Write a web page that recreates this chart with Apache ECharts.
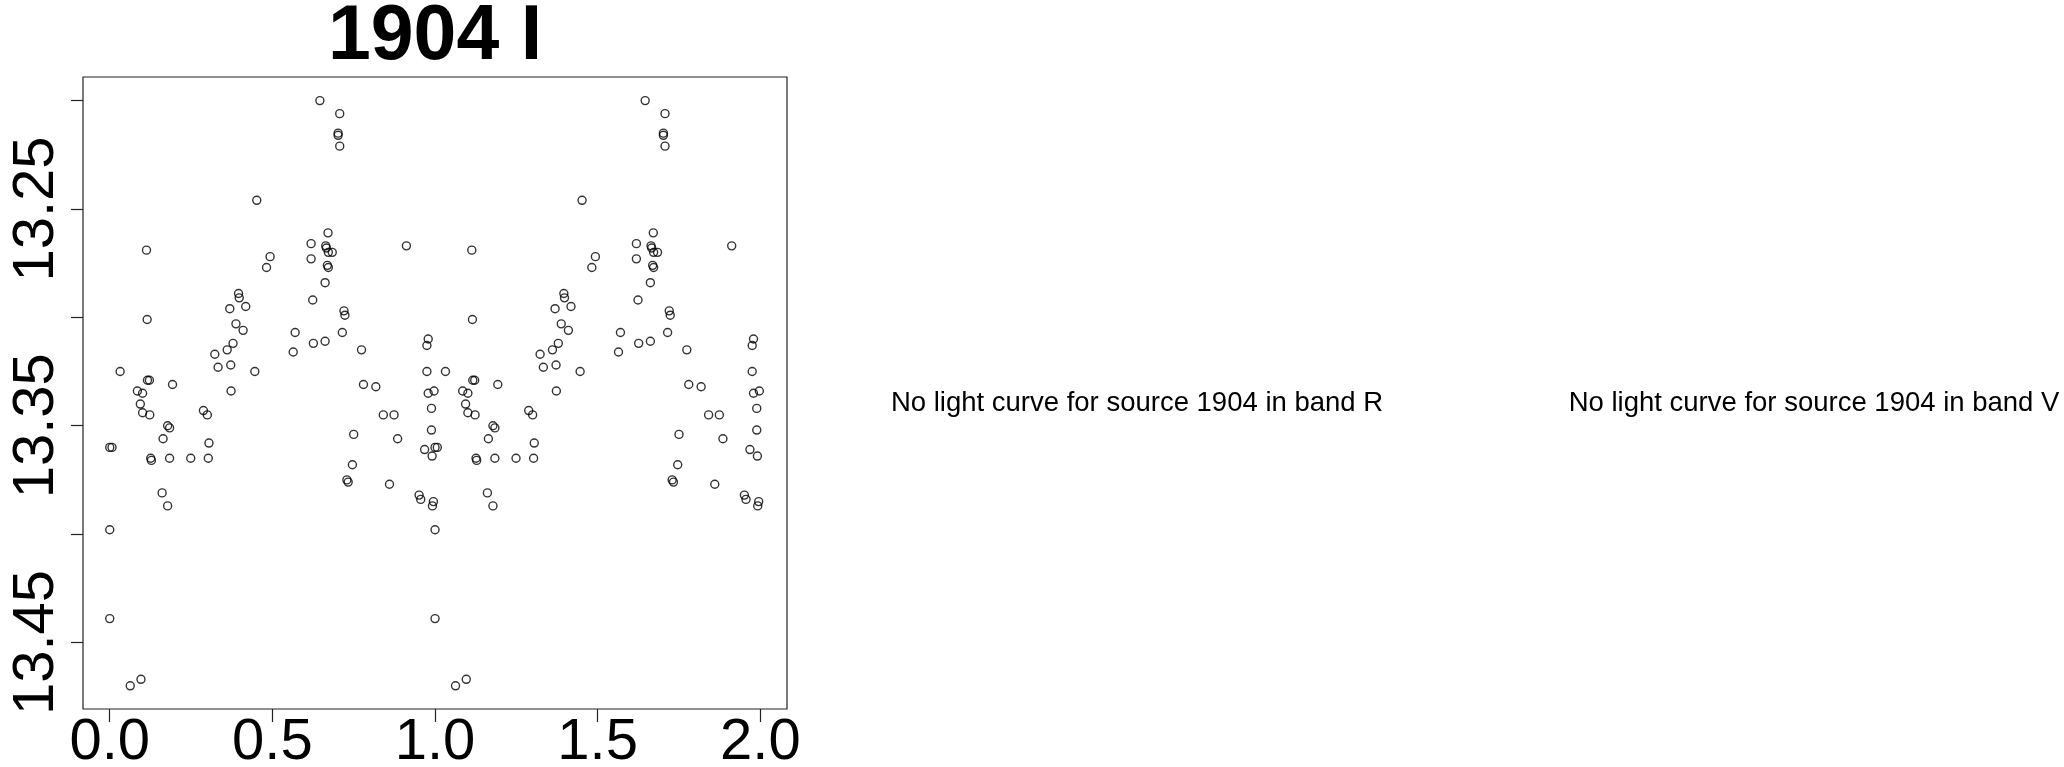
<!DOCTYPE html>
<html>
<head>
<meta charset="utf-8">
<script src="https://cdn.jsdelivr.net/npm/echarts@6/dist/echarts.min.js"></script>
<style>
html,body{margin:0;padding:0;background:#fff;}
#chart{width:2064px;height:767px;}
</style>
</head>
<body>
<div id="chart"></div>
<script>
// Folded light curve of source 1904, band I (phase in [0,1), drawn twice: phase and phase+1)
const phase = [
  0.113,0.115,0.323,0.333,0.032,0.116,0.122,0.193,0.085,0.101,
  0.094,0.101,0.123,0.288,0.300,0.178,0.184,0.164,0.305,0.000,
  0.007,0.126,0.128,0.184,0.249,0.303,0.161,0.178,0.000,0.000,
  0.063,0.096,
  0.646,0.452,0.671,0.619,0.664,0.666,0.672,0.684,0.493,0.482,
  0.619,0.669,0.672,0.662,0.396,0.398,0.369,0.418,0.624,0.388,
  0.410,0.570,0.379,0.361,0.626,0.662,0.564,0.372,0.446,0.373,
  0.707,0.702,0.702,0.707,0.912,0.720,0.723,0.715,0.774,0.979,
  0.975,0.975,0.780,0.818,0.979,0.997,0.989,0.841,0.874,0.750,
  0.989,0.885,0.968,0.991,0.746,0.729,0.733,0.860,0.951,0.956,
  0.995,0.992
];
const mag = [
  13.269,13.301,13.317,13.323,13.325,13.329,13.329,13.331,13.334,13.335,
  13.340,13.344,13.345,13.343,13.345,13.350,13.351,13.356,13.358,13.360,
  13.360,13.365,13.366,13.365,13.365,13.365,13.381,13.387,13.398,13.439,
  13.470,13.467,
  13.200,13.246,13.261,13.266,13.267,13.268,13.270,13.270,13.272,13.277,
  13.273,13.276,13.277,13.284,13.289,13.291,13.296,13.295,13.292,13.303,
  13.306,13.307,13.312,13.315,13.312,13.311,13.316,13.322,13.325,13.334,
  13.206,13.215,13.216,13.221,13.267,13.297,13.299,13.307,13.315,13.310,
  13.313,13.325,13.331,13.332,13.335,13.334,13.342,13.345,13.345,13.354,
  13.352,13.356,13.361,13.364,13.368,13.375,13.376,13.377,13.382,13.384,
  13.385,13.387
];
const xTicks = [0.0, 0.5, 1.0, 1.5, 2.0];
const yTicks = [13.20, 13.25, 13.30, 13.35, 13.40, 13.45];
const yLabels = [13.25, 13.35, 13.45];
const titleText = '1904 I';
const missingR = 'No light curve for source 1904 in band R';
const missingV = 'No light curve for source 1904 in band V';

const pts = [];
for (let i = 0; i < phase.length; i++) pts.push([phase[i], mag[i]]);
for (let i = 0; i < phase.length; i++) pts.push([phase[i] + 1, mag[i]]);

const FONT = '"Liberation Sans", Arial, Helvetica, sans-serif';
const chart = echarts.init(document.getElementById('chart'), null, {renderer: 'canvas'});
chart.setOption({
  backgroundColor: '#ffffff',
  animation: false,
  grid: {
    left: 83, right: 1277, top: 77, bottom: 58,
    show: true, borderColor: '#222', borderWidth: 1.2,
    containLabel: false, outerBoundsMode: 'none'
  },
  xAxis: {
    type: 'value', min: -0.0822, max: 2.082,
    splitLine: {show: false},
    axisLine: {show: false, onZero: false},
    axisTick: {show: true, customValues: xTicks, length: 13, inside: false,
      lineStyle: {color: '#222', width: 1.2}},
    axisLabel: {show: true, customValues: xTicks, margin: 5,
      fontSize: 58, lineHeight: 58, color: '#000', fontFamily: FONT,
      formatter: v => v.toFixed(1)}
  },
  yAxis: {
    type: 'value', inverse: true, min: 13.1891, max: 13.4807,
    splitLine: {show: false},
    axisLine: {show: false, onZero: false},
    axisTick: {show: true, customValues: yTicks, length: 12, inside: false,
      lineStyle: {color: '#222', width: 1.2}},
    axisLabel: {show: true, customValues: yLabels, rotate: 90, margin: 17,
      fontSize: 58, lineHeight: 58, color: '#000', fontFamily: FONT,
      formatter: v => v.toFixed(2)}
  },
  graphic: [
    {type: 'text', x: 435, y: 38, style: {text: titleText, font: 'bold 77px ' + FONT,
      fill: '#000', textAlign: 'center', textVerticalAlign: 'middle'}},
    {type: 'text', x: 1137, y: 403, style: {text: missingR, font: '27.5px ' + FONT,
      fill: '#000', textAlign: 'center', textVerticalAlign: 'middle'}},
    {type: 'text', x: 1814, y: 403, style: {text: missingV, font: '27.5px ' + FONT,
      fill: '#000', textAlign: 'center', textVerticalAlign: 'middle'}}
  ],
  series: [{
    type: 'scatter',
    data: pts,
    symbol: 'circle',
    symbolSize: 8,
    itemStyle: {color: 'rgba(0,0,0,0)', borderColor: '#000', borderWidth: 1.4},
    emphasis: {disabled: true}
  }]
});
</script>
</body>
</html>
